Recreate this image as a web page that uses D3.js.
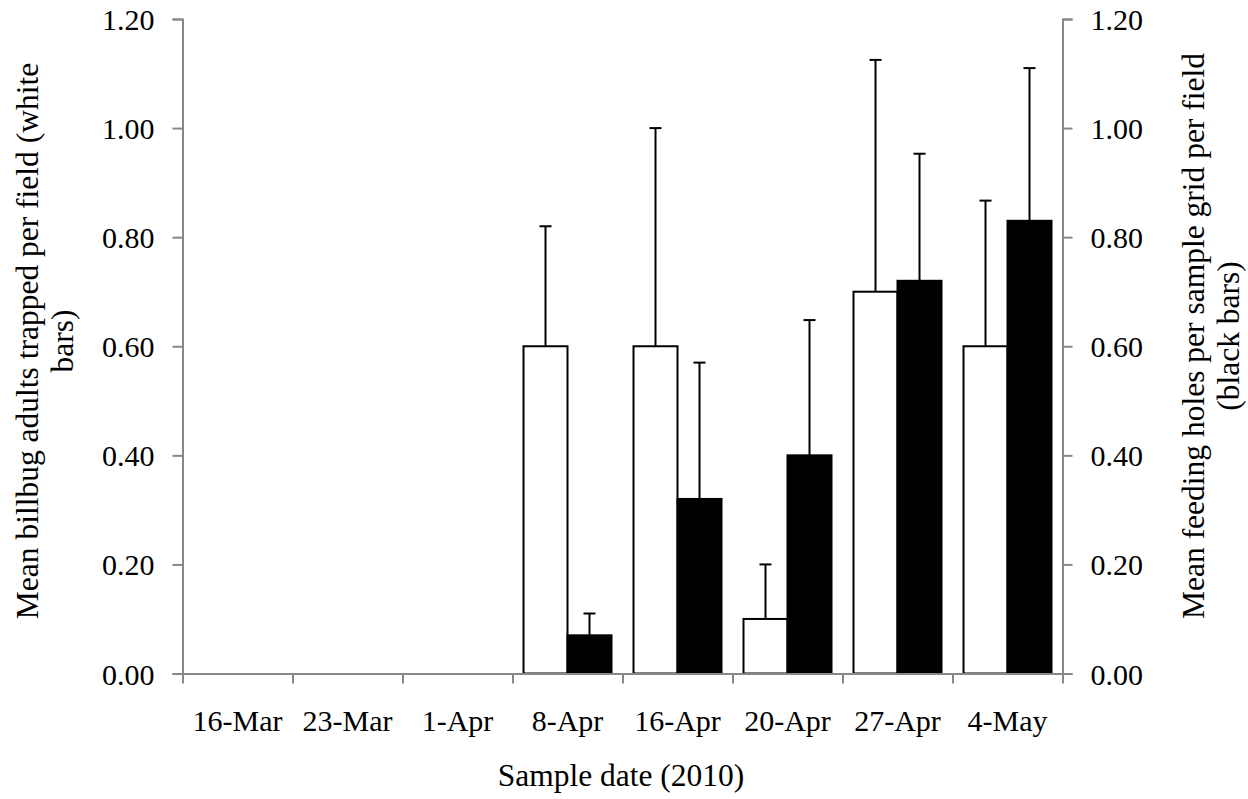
<!DOCTYPE html>
<html>
<head>
<meta charset="utf-8">
<script src="https://cdn.jsdelivr.net/npm/d3@7"></script>
<style>
  html, body { margin: 0; padding: 0; background: #fff; }
  svg text { font-family: "Liberation Serif", "Times New Roman", serif; fill: #000; }
</style>
</head>
<body>
<svg id="chart" width="1248" height="799" font-family="Liberation Serif, Times New Roman, serif"></svg>
<script>
// sample dates (2010)
const dates = ['16-Mar', '23-Mar', '1-Apr', '8-Apr', '16-Apr', '20-Apr', '27-Apr', '4-May'];
// white bars: mean billbug adults trapped per field, with standard error
const adultsMean = [0, 0, 0, 0.60, 0.60, 0.10, 0.70, 0.60];
const adultsErr = [0, 0, 0, 0.22, 0.40, 0.10, 0.425, 0.267];
// black bars: mean feeding holes per sample grid per field, with standard error
const holesMean = [0, 0, 0, 0.07, 0.32, 0.40, 0.72, 0.83];
const holesErr = [0, 0, 0, 0.04, 0.25, 0.248, 0.233, 0.28];
const yTicks = [0, 0.2, 0.4, 0.6, 0.8, 1.0, 1.2];

const AXIS_GREY = '#878787';
const FONT = 30;
const TITLE_FONT = 31.5;

const svg = d3.select('#chart');
const plot = { left: 182.5, right: 1062.5, top: 19, bottom: 673.5 };

const x = d3.scaleBand().domain(dates).range([plot.left, plot.right]).paddingInner(0.2).paddingOuter(0.1);
const xEdge = d3.scaleLinear().domain([0, dates.length]).range([plot.left, plot.right]);
const series = d3.scaleBand().domain(['adults', 'holes']).range([0, x.bandwidth()]);
const y = d3.scaleLinear().domain([0, 1.2]).range([plot.bottom, plot.top]);

const rows = dates.map((date, i) => ({ date, adults: adultsMean[i], adultsErr: adultsErr[i], holes: holesMean[i], holesErr: holesErr[i] }));
const bars = rows.flatMap(r => [
  { date: r.date, key: 'adults', value: r.adults, err: r.adultsErr },
  { date: r.date, key: 'holes', value: r.holes, err: r.holesErr },
]);

function styleAxis(g) {
  g.attr('font-family', null).attr('font-size', null);
  g.selectAll('path.domain').attr('stroke', AXIS_GREY).attr('stroke-width', 2);
  g.selectAll('.tick line').attr('stroke', AXIS_GREY).attr('stroke-width', 2);
  g.selectAll('.tick text').attr('font-size', FONT);
}

// left axis
const yLeft = svg.append('g').attr('transform', `translate(${plot.left},0)`)
  .call(d3.axisLeft(y).tickValues(yTicks).tickFormat(d3.format('.2f')).tickSize(10).tickPadding(18));
styleAxis(yLeft);
yLeft.selectAll('.tick text').attr('dy', '0.35em');

// right axis
const yRight = svg.append('g').attr('transform', `translate(${plot.right},0)`)
  .call(d3.axisRight(y).tickValues(yTicks).tickFormat(d3.format('.2f')).tickSize(10).tickPadding(18));
styleAxis(yRight);
yRight.selectAll('.tick text').attr('dy', '0.35em');

// bars
const barG = svg.append('g');
barG.selectAll('rect.bar').data(bars.filter(d => d.value > 0)).join('rect')
  .attr('class', 'bar')
  .attr('x', d => x(d.date) + series(d.key))
  .attr('y', d => y(d.value))
  .attr('width', series.bandwidth())
  .attr('height', d => y(0) - y(d.value))
  .attr('fill', d => d.key === 'adults' ? '#fff' : '#000')
  .attr('stroke', '#000')
  .attr('stroke-width', 2);

// error bars (upper only)
const errG = svg.append('g').attr('stroke', '#000').attr('stroke-width', 2);
const withErr = bars.filter(d => d.err > 0);
const cx = d => x(d.date) + series(d.key) + series.bandwidth() / 2;
errG.selectAll('line.stem').data(withErr).join('line')
  .attr('class', 'stem')
  .attr('x1', cx).attr('x2', cx)
  .attr('y1', d => y(d.value)).attr('y2', d => y(d.value + d.err));
errG.selectAll('line.cap').data(withErr).join('line')
  .attr('class', 'cap')
  .attr('x1', d => cx(d) - 6).attr('x2', d => cx(d) + 6)
  .attr('y1', d => y(d.value + d.err)).attr('y2', d => y(d.value + d.err));

// bottom axis: ticks between categories, labels centred in each band
const xAxis = svg.append('g').attr('transform', `translate(0,${plot.bottom})`)
  .call(d3.axisBottom(xEdge).tickValues(d3.range(dates.length + 1)).tickFormat('').tickSize(10).tickSizeOuter(0));
styleAxis(xAxis);
svg.append('g').selectAll('text').data(dates).join('text')
  .attr('x', d => x(d) + x.bandwidth() / 2)
  .attr('y', 731)
  .attr('text-anchor', 'middle')
  .attr('font-size', FONT)
  .text(d => d);

// axis titles
svg.append('text')
  .attr('x', 621).attr('y', 786)
  .attr('text-anchor', 'middle').attr('font-size', TITLE_FONT)
  .text('Sample date (2010)');

const leftTitle = svg.append('text')
  .attr('transform', 'translate(38,341) rotate(-90)')
  .attr('text-anchor', 'middle').attr('font-size', TITLE_FONT);
leftTitle.append('tspan').attr('x', 0).attr('dy', 0).text('Mean billbug adults trapped per field (white');
leftTitle.append('tspan').attr('x', 0).attr('dy', 35).text('bars)');

const rightTitle = svg.append('text')
  .attr('transform', 'translate(1204,336) rotate(-90)')
  .attr('text-anchor', 'middle').attr('font-size', TITLE_FONT);
rightTitle.append('tspan').attr('x', 0).attr('dy', 0).text('Mean feeding holes per sample grid per field');
rightTitle.append('tspan').attr('x', 0).attr('dy', 35).text('(black bars)');
</script>
</body>
</html>
